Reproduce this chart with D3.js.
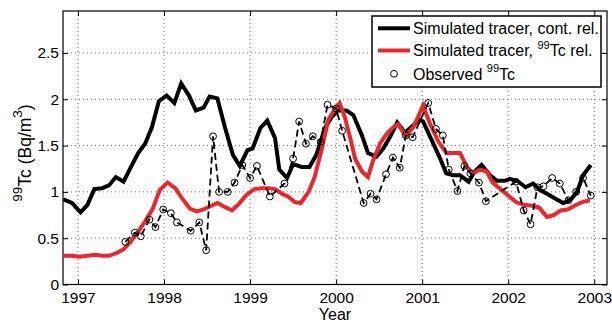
<!DOCTYPE html>
<html lang="en">
<head>
  <meta charset="UTF-8">
  <title>99Tc simulated vs observed</title>
  <script src="https://d3js.org/d3.v7.min.js"></script>
  <style>
    body { margin: 0; background: #fff; }
    svg { display: block; font-family: "Liberation Sans", Arial, sans-serif; }
  </style>
</head>
<body>
<svg id="chart" width="612" height="322"></svg>
<script>
  // decimal year / value pairs
  const contYears = [1996.83, 1996.93, 1997.03, 1997.11, 1997.19, 1997.28, 1997.36, 1997.44, 1997.53, 1997.61,
    1997.70, 1997.78, 1997.86, 1997.94, 1998.03, 1998.12, 1998.20, 1998.29, 1998.37, 1998.46,
    1998.53, 1998.62, 1998.71, 1998.80, 1998.88, 1998.97, 1999.03, 1999.12, 1999.20, 1999.29,
    1999.34, 1999.43, 1999.50, 1999.60, 1999.69, 1999.77, 1999.87, 1999.95, 2000.02, 2000.12,
    2000.20, 2000.30, 2000.37, 2000.47, 2000.55, 2000.63, 2000.71, 2000.80, 2000.90, 2000.97,
    2001.01, 2001.09, 2001.19, 2001.28, 2001.36, 2001.44, 2001.54, 2001.61, 2001.69, 2001.79,
    2001.87, 2001.96, 2002.02, 2002.12, 2002.20, 2002.29, 2002.37, 2002.47, 2002.56, 2002.64,
    2002.72, 2002.80, 2002.87, 2002.96];
  const contValues = [0.92, 0.88, 0.78, 0.86, 1.03, 1.04, 1.07, 1.16, 1.11, 1.26,
    1.42, 1.52, 1.70, 1.98, 2.04, 1.96, 2.17, 2.04, 1.88, 1.91,
    2.03, 2.01, 1.69, 1.40, 1.28, 1.45, 1.47, 1.69, 1.77, 1.58,
    1.24, 1.15, 1.30, 1.27, 1.27, 1.40, 1.69, 1.81, 1.88, 1.88,
    1.83, 1.61, 1.42, 1.38, 1.47, 1.60, 1.75, 1.64, 1.72, 1.78,
    1.76, 1.60, 1.40, 1.20, 1.18, 1.18, 1.11, 1.22, 1.29, 1.18,
    1.12, 1.12, 1.14, 1.11, 1.05, 1.09, 1.02, 0.97, 0.92, 0.88,
    0.91, 1.00, 1.18, 1.29];

  const tcYears = [1996.83, 1996.93, 1997.02, 1997.11, 1997.20, 1997.28, 1997.36, 1997.45, 1997.53, 1997.61,
    1997.70, 1997.78, 1997.87, 1997.95, 1998.04, 1998.13, 1998.21, 1998.30, 1998.38, 1998.46,
    1998.55, 1998.62, 1998.70, 1998.79, 1998.87, 1998.96, 1999.05, 1999.13, 1999.21, 1999.29,
    1999.37, 1999.44, 1999.52, 1999.59, 1999.68, 1999.75, 1999.83, 1999.91, 1999.99, 2000.04,
    2000.10, 2000.17, 2000.22, 2000.30, 2000.37, 2000.43, 2000.51, 2000.59, 2000.68, 2000.72,
    2000.81, 2000.90, 2001.01, 2001.09, 2001.19, 2001.28, 2001.44, 2001.52, 2001.59, 2001.67,
    2001.75, 2001.82, 2001.91, 2002.00, 2002.09, 2002.18, 2002.28, 2002.36, 2002.45, 2002.53,
    2002.61, 2002.69, 2002.77, 2002.86, 2002.95];
  const tcValues = [0.31, 0.31, 0.30, 0.31, 0.32, 0.31, 0.31, 0.34, 0.38, 0.46,
    0.57, 0.68, 0.82, 1.02, 1.10, 1.04, 0.93, 0.82, 0.79, 0.81,
    0.85, 0.88, 0.84, 0.80, 0.87, 0.97, 1.03, 1.04, 1.04, 1.03,
    0.98, 0.95, 0.89, 0.88, 1.00, 1.16, 1.45, 1.78, 1.90, 1.96,
    1.81, 1.56, 1.36, 1.22, 1.16, 1.34, 1.52, 1.63, 1.71, 1.73,
    1.60, 1.70, 1.93, 1.74, 1.54, 1.42, 1.42, 1.27, 1.20, 1.24,
    1.22, 1.10, 1.03, 0.96, 0.89, 0.86, 0.85, 0.83, 0.73, 0.75,
    0.80, 0.81, 0.85, 0.89, 0.91];

  const obsYears = [1997.55, 1997.66, 1997.73, 1997.83, 1997.90, 1997.99, 1998.08, 1998.15, 1998.31, 1998.41,
    1998.49, 1998.57, 1998.64, 1998.74, 1998.82, 1998.91, 1999.00, 1999.08, 1999.23, 1999.40,
    1999.50, 1999.57, 1999.65, 1999.73, 1999.82, 1999.90, 2000.00, 2000.07, 2000.32, 2000.40,
    2000.47, 2000.58, 2000.66, 2000.74, 2000.81, 2000.89, 2001.07, 2001.16, 2001.24, 2001.31,
    2001.41, 2001.49, 2001.56, 2001.66, 2001.74, 2002.09, 2002.18, 2002.26, 2002.34, 2002.41,
    2002.51, 2002.60, 2002.70, 2002.79, 2002.87, 2002.96];
  const obsValues = [0.46, 0.56, 0.52, 0.70, 0.62, 0.81, 0.77, 0.67, 0.58, 0.67,
    0.37, 1.60, 1.00, 1.00, 1.10, 1.29, 1.15, 1.28, 0.95, 1.09,
    1.36, 1.76, 1.52, 1.60, 1.54, 1.94, 1.90, 1.66, 0.88, 0.98,
    0.92, 1.19, 1.37, 1.26, 1.61, 1.59, 1.96, 1.68, 1.61, 1.24,
    1.01, 1.28, 1.20, 1.10, 0.90, 1.11, 0.80, 0.65, 1.05, 1.06,
    1.15, 1.09, 0.91, 1.00, 1.15, 0.96];

  const xTicks = [1997, 1998, 1999, 2000, 2001, 2002, 2003];
  const yTicks = [0, 0.5, 1, 1.5, 2, 2.5];

  const svg = d3.select("#chart");
  const box = {left: 63, right: 607, top: 11, bottom: 284.5};
  const red = "#e8282d";

  const x = d3.scaleLinear().domain([1996.826, 2003.148]).range([box.left, box.right]);
  const y = d3.scaleLinear().domain([0, 2.953]).range([box.bottom, box.top]);

  svg.append("clipPath").attr("id", "plotClip")
    .append("rect").attr("x", box.left).attr("y", box.top)
    .attr("width", box.right - box.left).attr("height", box.bottom - box.top);

  // dotted grid
  const grid = svg.append("g").attr("stroke", "#777").attr("stroke-width", 1).attr("stroke-dasharray", "1,3");
  grid.selectAll("line.gx").data(xTicks).enter().append("line")
    .attr("x1", d => x(d)).attr("x2", d => x(d)).attr("y1", box.top).attr("y2", box.bottom);
  grid.selectAll("line.gy").data(yTicks.slice(1)).enter().append("line")
    .attr("x1", box.left).attr("x2", box.right).attr("y1", d => y(d)).attr("y2", d => y(d));

  // axes, ticks inside on all four sides
  const fmt = d => String(d);
  svg.append("g").attr("transform", `translate(0,${box.bottom})`)
    .call(d3.axisBottom(x).tickValues(xTicks).tickFormat(fmt).tickSizeInner(-5).tickSizeOuter(0).tickPadding(7));
  svg.append("g").attr("transform", `translate(${box.left},0)`)
    .call(d3.axisLeft(y).tickValues(yTicks).tickFormat(fmt).tickSizeInner(-5).tickSizeOuter(0).tickPadding(4));
  svg.append("g").attr("transform", `translate(0,${box.top})`)
    .call(d3.axisTop(x).tickValues(xTicks).tickFormat("").tickSizeInner(-5).tickSizeOuter(0));
  svg.append("g").attr("transform", `translate(${box.right},0)`)
    .call(d3.axisRight(y).tickValues(yTicks).tickFormat("").tickSizeInner(-5).tickSizeOuter(0));
  svg.selectAll(".domain").remove();
  svg.selectAll(".tick text").attr("font-size", 15.5).attr("fill", "#000")
    .attr("font-family", "'Liberation Sans', Arial, sans-serif");
  svg.selectAll(".tick line").attr("stroke", "#000");

  svg.append("rect").attr("x", box.left).attr("y", box.top)
    .attr("width", box.right - box.left).attr("height", box.bottom - box.top)
    .attr("fill", "none").attr("stroke", "#000").attr("stroke-width", 1.2);

  // series
  const plot = svg.append("g").attr("clip-path", "url(#plotClip)");
  const line = d3.line().x(d => x(d[0])).y(d => y(d[1]));

  plot.append("path").datum(d3.zip(contYears, contValues))
    .attr("d", line).attr("fill", "none").attr("stroke", "#000").attr("stroke-width", 4);
  plot.append("path").datum(d3.zip(tcYears, tcValues))
    .attr("d", line).attr("fill", "none").attr("stroke", red).attr("stroke-width", 4);

  const obs = d3.zip(obsYears, obsValues);
  plot.append("path").datum(obs)
    .attr("d", line).attr("fill", "none").attr("stroke", "#000").attr("stroke-width", 1.8)
    .attr("stroke-dasharray", "7,4");
  plot.selectAll("circle.obs").data(obs).enter().append("circle")
    .attr("class", "obs")
    .attr("cx", d => x(d[0])).attr("cy", d => y(d[1])).attr("r", 3.4)
    .attr("fill", "none").attr("stroke", "#000").attr("stroke-width", 1);

  // axis labels
  const yl = svg.append("text").attr("transform", "translate(31,153) rotate(-90)")
    .attr("text-anchor", "middle").attr("font-size", 17.5).attr("fill", "#000");
  yl.append("tspan").attr("font-size", 13.5).attr("dy", -9).text("99");
  yl.append("tspan").attr("dy", 9).text("Tc (Bq/m");
  yl.append("tspan").attr("font-size", 13.5).attr("dy", -9).text("3");
  yl.append("tspan").attr("dy", 9).text(")");

  svg.append("text").attr("x", (box.left + box.right) / 2).attr("y", 320)
    .attr("text-anchor", "middle").attr("font-size", 16).attr("fill", "#000").text("Year");

  // legend
  const lg = svg.append("g");
  lg.append("rect").attr("x", 372).attr("y", 16).attr("width", 229).attr("height", 71)
    .attr("fill", "#fff").attr("stroke", "#000").attr("stroke-width", 1.5);
  const rows = [28.3, 50.5, 73.8];
  lg.append("line").attr("x1", 378).attr("x2", 410).attr("y1", rows[0]).attr("y2", rows[0])
    .attr("stroke", "#000").attr("stroke-width", 4);
  lg.append("line").attr("x1", 378).attr("x2", 410).attr("y1", rows[1]).attr("y2", rows[1])
    .attr("stroke", red).attr("stroke-width", 4);
  lg.append("circle").attr("cx", 394).attr("cy", rows[2]).attr("r", 3.4)
    .attr("fill", "none").attr("stroke", "#000").attr("stroke-width", 1);

  const t1 = lg.append("text").attr("x", 413).attr("y", rows[0] + 5.8).attr("font-size", 16);
  t1.append("tspan").text("Simulated tracer, cont. rel.");
  const t2 = lg.append("text").attr("x", 413).attr("y", rows[1] + 5.8).attr("font-size", 16);
  t2.append("tspan").text("Simulated tracer, ");
  t2.append("tspan").attr("font-size", 11).attr("dy", -7.5).text("99");
  t2.append("tspan").attr("dy", 7.5).text("Tc rel.");
  const t3 = lg.append("text").attr("x", 413).attr("y", rows[2] + 5.8).attr("font-size", 16);
  t3.append("tspan").text("Observed ");
  t3.append("tspan").attr("font-size", 11).attr("dy", -7.5).text("99");
  t3.append("tspan").attr("dy", 7.5).text("Tc");
</script>
</body>
</html>
